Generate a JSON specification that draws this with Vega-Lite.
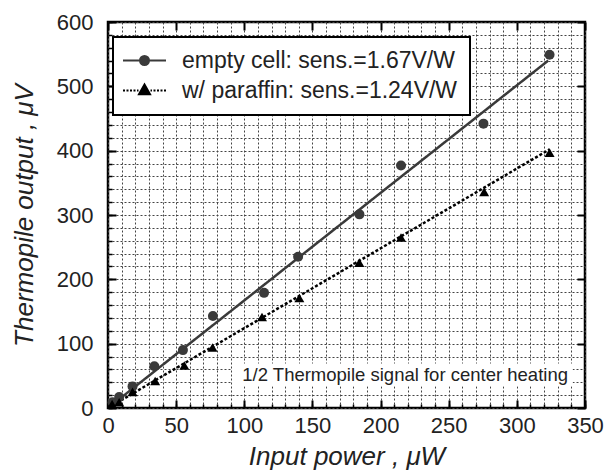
{
  "$schema": "https://vega.github.io/schema/vega-lite/v6.json",
  "width": 477,
  "height": 386,
  "autosize": {"type": "none"},
  "padding": {"left": 108, "top": 22, "right": 23, "bottom": 63},
  "background": "white",
  "config": {
    "font": "Liberation Sans",
    "view": {"stroke": "#000", "strokeWidth": 2.5}
  },
  "datasets": {
    "points": [
      {"series": "empty cell: sens.=1.67V/W", "P": 3.3, "V": 9},
      {"series": "empty cell: sens.=1.67V/W", "P": 8.2, "V": 17},
      {"series": "empty cell: sens.=1.67V/W", "P": 18, "V": 33.6},
      {"series": "empty cell: sens.=1.67V/W", "P": 34, "V": 65},
      {"series": "empty cell: sens.=1.67V/W", "P": 55, "V": 90},
      {"series": "empty cell: sens.=1.67V/W", "P": 77, "V": 143},
      {"series": "empty cell: sens.=1.67V/W", "P": 114.5, "V": 179},
      {"series": "empty cell: sens.=1.67V/W", "P": 139.5, "V": 235},
      {"series": "empty cell: sens.=1.67V/W", "P": 184.5, "V": 301},
      {"series": "empty cell: sens.=1.67V/W", "P": 215, "V": 377},
      {"series": "empty cell: sens.=1.67V/W", "P": 275.5, "V": 442},
      {"series": "empty cell: sens.=1.67V/W", "P": 324, "V": 549},
      {"series": "w/ paraffin: sens.=1.24V/W", "P": 3, "V": 6},
      {"series": "w/ paraffin: sens.=1.24V/W", "P": 8.2, "V": 9},
      {"series": "w/ paraffin: sens.=1.24V/W", "P": 18, "V": 25},
      {"series": "w/ paraffin: sens.=1.24V/W", "P": 34.6, "V": 42},
      {"series": "w/ paraffin: sens.=1.24V/W", "P": 56, "V": 66},
      {"series": "w/ paraffin: sens.=1.24V/W", "P": 76.7, "V": 94},
      {"series": "w/ paraffin: sens.=1.24V/W", "P": 113, "V": 141.5},
      {"series": "w/ paraffin: sens.=1.24V/W", "P": 140.4, "V": 171},
      {"series": "w/ paraffin: sens.=1.24V/W", "P": 184.4, "V": 226},
      {"series": "w/ paraffin: sens.=1.24V/W", "P": 215, "V": 265},
      {"series": "w/ paraffin: sens.=1.24V/W", "P": 276, "V": 336},
      {"series": "w/ paraffin: sens.=1.24V/W", "P": 324, "V": 397}
    ],
    "fits": [
      {"series": "empty cell: sens.=1.67V/W", "P": 0, "V": 0},
      {"series": "empty cell: sens.=1.67V/W", "P": 323, "V": 540},
      {"series": "w/ paraffin: sens.=1.24V/W", "P": 0, "V": 0},
      {"series": "w/ paraffin: sens.=1.24V/W", "P": 324, "V": 402}
    ]
  },
  "resolve": {"axis": {"x": "independent", "y": "independent"}},
  "layer": [
    {
      "data": {"name": "fits"},
      "mark": {"type": "line", "strokeWidth": 2.5, "clip": true},
      "encoding": {
        "x": {
          "field": "P", "type": "quantitative",
          "scale": {"domain": [0, 350], "nice": false},
          "axis": {
            "orient": "bottom", "title": null,
            "values": [0,10,20,30,40,50,60,70,80,90,100,110,120,130,140,150,160,170,180,190,200,210,220,230,240,250,260,270,280,290,300,310,320,330,340,350],
            "grid": true, "gridDash": [2, 2], "gridColor": "#444", "gridWidth": 1, "gridOpacity": 1,
            "labels": false, "domain": false,
            "ticks": true, "tickSize": -4, "tickColor": "#000", "tickWidth": 1.5
          }
        },
        "y": {
          "field": "V", "type": "quantitative",
          "scale": {"domain": [0, 600], "nice": false},
          "axis": {
            "orient": "left", "title": null,
            "values": [0,20,40,60,80,100,120,140,160,180,200,220,240,260,280,300,320,340,360,380,400,420,440,460,480,500,520,540,560,580,600],
            "grid": true, "gridDash": [2, 2], "gridColor": "#444", "gridWidth": 1, "gridOpacity": 1,
            "labels": false, "domain": false,
            "ticks": true, "tickSize": -4, "tickColor": "#000", "tickWidth": 1.5
          }
        },
        "color": {
          "field": "series", "type": "nominal",
          "scale": {"domain": ["w/ paraffin: sens.=1.24V/W", "empty cell: sens.=1.67V/W"], "range": ["#000000", "#3a3a3a"]},
          "legend": null
        },
        "strokeDash": {
          "field": "series", "type": "nominal",
          "scale": {"domain": ["w/ paraffin: sens.=1.24V/W", "empty cell: sens.=1.67V/W"], "range": [[3, 2], [1, 0]]},
          "legend": null
        }
      }
    },
    {
      "data": {"name": "points"},
      "mark": {"type": "point", "filled": true, "size": 100},
      "encoding": {
        "x": {
          "field": "P", "type": "quantitative",
          "axis": {
            "orient": "bottom",
            "values": [0, 50, 100, 150, 200, 250, 300, 350],
            "grid": false, "domain": false,
            "ticks": true, "tickSize": -8, "tickColor": "#000", "tickWidth": 2,
            "labelFont": "Liberation Sans", "labelFontSize": 22, "labelColor": "#222", "labelPadding": 15,
            "labelFlush": false,
            "title": "Input power , μW",
            "titleFont": "Liberation Sans", "titleFontSize": 26, "titleFontStyle": "italic", "titleFontWeight": "normal",
            "titleColor": "#222", "titlePadding": 7
          }
        },
        "y": {
          "field": "V", "type": "quantitative",
          "axis": {
            "orient": "left",
            "values": [0, 100, 200, 300, 400, 500, 600],
            "grid": false, "domain": false,
            "ticks": true, "tickSize": -8, "tickColor": "#000", "tickWidth": 2,
            "labelFont": "Liberation Sans", "labelFontSize": 22, "labelColor": "#222", "labelPadding": 23,
            "labelFlush": false,
            "title": "Thermopile output , μV",
            "titleFont": "Liberation Sans", "titleFontSize": 26, "titleFontStyle": "italic", "titleFontWeight": "normal",
            "titleColor": "#222", "titlePadding": 19
          }
        },
        "color": {"field": "series", "type": "nominal", "legend": null},
        "shape": {
          "field": "series", "type": "nominal",
          "scale": {"domain": ["w/ paraffin: sens.=1.24V/W", "empty cell: sens.=1.67V/W"], "range": ["triangle-up", "circle"]},
          "legend": null
        },
        "opacity": {
          "field": "series", "type": "nominal",
          "scale": {"domain": ["empty cell: sens.=1.67V/W", "w/ paraffin: sens.=1.24V/W"], "range": [1, 1]},
          "legend": {
            "orient": "none", "legendX": 5, "legendY": 15,
            "title": null,
            "fillColor": "white", "strokeColor": "#000",
            "padding": 12,
            "symbolSize": 400, "symbolStrokeWidth": 2, "symbolOpacity": 1, "symbolOffset": 8,
            "labelFont": "Liberation Sans", "labelFontSize": 23, "labelColor": "#222", "labelLimit": 0, "labelOffset": 26,
            "rowPadding": 6,
            "encoding": {
              "legend": {"strokeWidth": {"value": 2}},
              "symbols": {
                "shape": {"value": {"expr": "datum.value === 'empty cell: sens.=1.67V/W' ? 'M-2.15,0L2.15,0M-0.45,0A0.45,0.45,0,1,1,0.45,0A0.45,0.45,0,1,1,-0.45,0Z' : 'M-2.15,0L-1.95,0M-1.8,0L-1.6,0M-1.45,0L-1.25,0M-1.1,0L-0.9,0M-0.75,0L-0.6,0M0,-0.6L0.55,0.38L-0.55,0.38ZM0.6,0L0.75,0M0.9,0L1.1,0M1.25,0L1.45,0M1.6,0L1.8,0M1.95,0L2.15,0'"}},
                "fill": {"value": {"expr": "datum.value === 'empty cell: sens.=1.67V/W' ? '#3a3a3a' : '#000'"}},
                "stroke": {"value": {"expr": "datum.value === 'empty cell: sens.=1.67V/W' ? '#3a3a3a' : '#000'"}},
                "size": {"value": 400}
              }
            }
          }
        }
      }
    },
    {
      "data": {"values": [{"note": "1/2 Thermopile signal for center heating"}]},
      "mark": {"type": "rect", "fill": "white", "stroke": null},
      "encoding": {
        "x": {"datum": 91, "type": "quantitative", "axis": null},
        "x2": {"datum": 341},
        "y": {"datum": 34, "type": "quantitative", "axis": null},
        "y2": {"datum": 69}
      }
    },
    {
      "data": {"values": [{"note": "1/2 Thermopile signal for center heating"}]},
      "mark": {"type": "text", "align": "right", "baseline": "middle", "font": "Liberation Sans", "fontSize": 18.5, "color": "#222"},
      "encoding": {
        "x": {
          "datum": 337.5, "type": "quantitative",
          "axis": {
            "orient": "top", "title": null, "values": [0, 50, 100, 150, 200, 250, 300, 350],
            "labels": false, "grid": false, "domain": false,
            "ticks": true, "tickSize": -8, "tickColor": "#000", "tickWidth": 2
          }
        },
        "y": {
          "datum": 52, "type": "quantitative",
          "axis": {
            "orient": "right", "title": null, "values": [0, 100, 200, 300, 400, 500, 600],
            "labels": false, "grid": false, "domain": false,
            "ticks": true, "tickSize": -8, "tickColor": "#000", "tickWidth": 2
          }
        },
        "text": {"field": "note"}
      }
    }
  ]
}
